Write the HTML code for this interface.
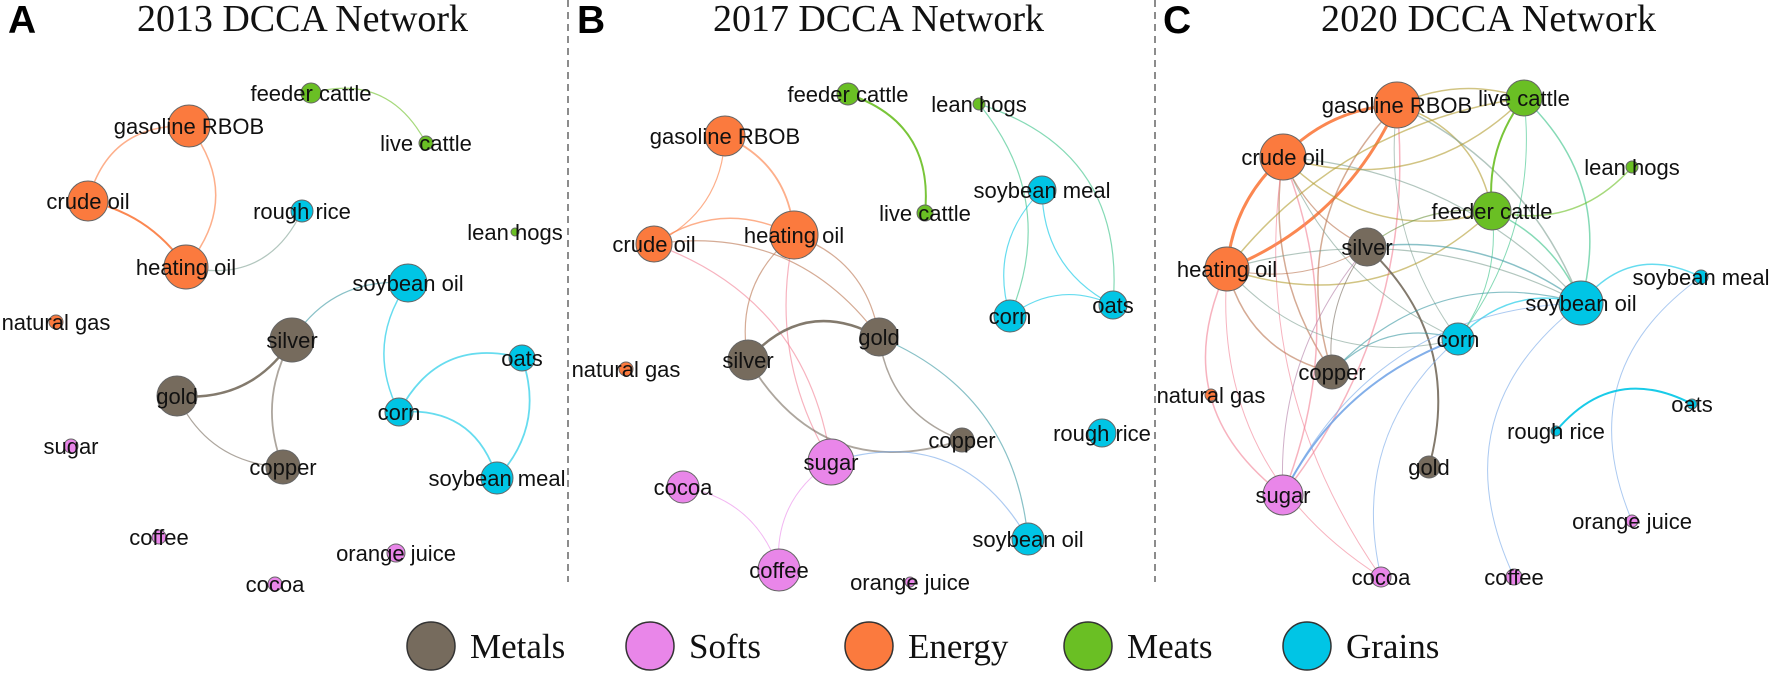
<!DOCTYPE html>
<html><head><meta charset="utf-8"><style>
html,body{margin:0;padding:0;background:#fff;}
svg{display:block;}
.lbl{font-family:"Liberation Sans",Arial,sans-serif;font-size:22px;fill:#111;text-anchor:middle;}
.ttl{font-family:"Liberation Serif","Times New Roman",serif;font-size:38px;fill:#111;}
.let{font-family:"Liberation Sans",Arial,sans-serif;font-size:39px;font-weight:bold;fill:#000;}
.leg{font-family:"Liberation Serif","Times New Roman",serif;font-size:35px;fill:#111;}
</style></head><body>
<svg id="chart" width="1772" height="674" viewBox="0 0 1772 674" xmlns="http://www.w3.org/2000/svg">
<line x1="568" y1="0" x2="568" y2="582" stroke="#666" stroke-width="1.5" stroke-dasharray="7,5"/>
<line x1="1155" y1="0" x2="1155" y2="582" stroke="#666" stroke-width="1.5" stroke-dasharray="7,5"/>
<text class="let" x="8" y="33">A</text>
<text class="let" x="577" y="33">B</text>
<text class="let" x="1163" y="33">C</text>
<text class="ttl" x="137" y="31" textLength="331">2013 DCCA Network</text>
<text class="ttl" x="713" y="31" textLength="331">2017 DCCA Network</text>
<text class="ttl" x="1321" y="31" textLength="335">2020 DCCA Network</text>
<g id="edges"></g><g id="nodes"></g><g id="legend"></g>
</svg>
<script>
// categories
const categories = ['Metals','Softs','Energy','Meats','Grains'];
const catColors = ['#766b5d','#e986e9','#fb7a3e','#6abf24','#00c5e5'];
const names = {gas:'gasoline RBOB',cru:'crude oil',hea:'heating oil',ng:'natural gas',feed:'feeder cattle',live:'live cattle',lean:'lean hogs',
  rice:'rough rice',soyoil:'soybean oil',soymeal:'soybean meal',corn:'corn',oats:'oats',silver:'silver',gold:'gold',copper:'copper',
  sugar:'sugar',coffee:'coffee',cocoa:'cocoa',oj:'orange juice'};
const nodeCat = {gas:2,cru:2,hea:2,ng:2,feed:3,live:3,lean:3,rice:4,soyoil:4,soymeal:4,corn:4,oats:4,silver:0,gold:0,copper:0,sugar:1,coffee:1,cocoa:1,oj:1};
// node layout per panel: [id, x, y, size]
const nodesA = [['gas',189,126,21],['cru',88,201,20],['hea',186,267,22],['feed',311,93,10],['live',426,143,7],['rice',302,211,11],['lean',515,232,4],
 ['soyoil',408,283,19],['ng',56,322,7],['silver',292,340,22],['gold',177,396,20],['oats',522,358,13],['corn',399,412,14],['sugar',71,446,7],
 ['copper',283,467,17],['soymeal',497,478,16],['coffee',159,537,7],['oj',396,553,9],['cocoa',275,584,7]];
const nodesB = [['feed',848,94,11],['lean',979,104,6],['gas',725,136,20],['soymeal',1042,190,14],['live',925,213,8],['hea',794,235,24],['cru',654,244,18],
 ['oats',1113,305,14],['corn',1010,316,16],['gold',879,337,19],['silver',748,360,20],['ng',626,369,7],['rice',1102,433,14],['copper',962,440,12],
 ['sugar',831,462,23],['cocoa',683,487,16],['soyoil',1028,539,16],['coffee',779,570,21],['oj',910,582,5]];
const nodesC = [['live',1524,98,18],['gas',1397,105,23],['cru',1283,157,23],['lean',1632,167,6],['feed',1492,211,19],['silver',1367,247,19],
 ['hea',1227,269,22],['soymeal',1701,277,7],['soyoil',1581,303,22],['corn',1458,339,16],['copper',1332,372,17],['ng',1211,395,6],
 ['oats',1692,404,5],['rice',1556,431,5],['gold',1429,467,11],['sugar',1283,495,20],['oj',1632,521,6],['coffee',1514,577,8],['cocoa',1381,577,10]];
// edges: [source, target, weight, bend]
const edgesA = [['gas','cru',1.5,0.2],['gas','hea',1.5,-0.2],['cru','hea',2,-0.1],['hea','rice',1.2,0.2],['feed','live',1.2,-0.2],
 ['silver','soyoil',1.2,-0.15],['silver','gold',2.5,-0.15],['silver','copper',1.8,0.12],['gold','copper',1.2,0.15],
 ['soyoil','corn',1.5,0.15],['corn','oats',1.8,-0.2],['corn','soymeal',1.8,-0.2],['oats','soymeal',1.8,-0.15]];
const edgesB = [['gas','cru',1.2,-0.15],['gas','hea',1.8,-0.15],['cru','hea',1.5,-0.15],['feed','live',2,-0.2],['lean','oats',1.2,-0.2],
 ['lean','corn',1.2,-0.15],['soymeal','corn',1.2,0.15],['soymeal','oats',1.2,0.15],['corn','oats',1.2,-0.15],['cru','gold',1.2,-0.15],
 ['cru','sugar',1.2,-0.15],['hea','silver',1.2,0.15],['hea','sugar',1.2,0.1],['hea','gold',1.2,-0.15],['silver','gold',2.5,-0.2],
 ['silver','copper',1.8,0.2],['gold','copper',1.5,0.15],['gold','soyoil',1.2,-0.15],['sugar','soyoil',1.2,-0.2],['sugar','coffee',1,0.15],['cocoa','coffee',1,-0.15]];
const edgesC = [['gas','cru',3,0.1],['gas','hea',3,-0.1],['cru','hea',3,0.1],
 ['gas','live',1.5,-0.1],['gas','feed',1.5,-0.15],['gas','soyoil',1.5,-0.1],['gas','copper',1.5,0.15],['gas','sugar',1.5,-0.1],['gas','corn',1,0.1],
 ['cru','live',1.5,0.15],['cru','feed',1.5,0.15],['cru','soyoil',1.2,-0.1],['cru','copper',1.5,0.1],['cru','sugar',1.5,-0.1],['cru','corn',1,0.1],['cru','silver',1.2,0.1],['cru','cocoa',1,0.1],
 ['hea','live',1.5,-0.1],['hea','feed',1.5,0.15],['hea','soyoil',1.2,-0.1],['hea','copper',1.5,0.15],['hea','sugar',1.5,0.2],['hea','corn',1,0.15],['hea','silver',1,0.1],['hea','cocoa',1,0.15],
 ['live','feed',2,0.1],['live','soyoil',1.5,-0.15],['live','corn',1,-0.1],['feed','lean',1.5,0.15],['feed','soyoil',1.5,-0.1],['feed','corn',1,-0.1],['feed','silver',1.2,0.1],
 ['silver','gold',2,-0.15],['silver','soyoil',1.5,-0.1],['silver','copper',1,0.1],['silver','sugar',1,0.1],
 ['copper','corn',1.2,-0.15],['copper','soyoil',1.2,-0.15],['corn','soyoil',1.5,-0.15],['corn','sugar',2,0.1],['corn','cocoa',1,0.15],
 ['soyoil','sugar',1,0.15],['soyoil','coffee',1,0.2],['soyoil','soymeal',1.5,-0.2],['soymeal','oj',1,0.2],['rice','oats',2,-0.2]];

const NS='http://www.w3.org/2000/svg';
function hex(c){return [1,3,5].map(i=>parseInt(c.substr(i,2),16));}
function mix(a,b){const x=hex(a),y=hex(b);return 'rgb('+x.map((v,i)=>Math.round((v+y[i])/2)).join(',')+')';}
function drawPanel(key,nodes,edges){
  const eg=document.getElementById('edges'), ng=document.getElementById('nodes');
  const pos={}; nodes.forEach(n=>pos[n[0]]=n);
  edges.forEach(e=>{
    const s=pos[e[0]],t=pos[e[1]]; if(!s||!t) return;
    const dx=t[1]-s[1],dy=t[2]-s[2];
    const cx=(s[1]+t[1])/2 - dy*e[3]*2, cy=(s[2]+t[2])/2 + dx*e[3]*2;
    const p=document.createElementNS(NS,'path');
    p.setAttribute('d','M'+s[1]+','+s[2]+' Q'+cx+','+cy+' '+t[1]+','+t[2]);
    const c1=catColors[nodeCat[e[0]]],c2=catColors[nodeCat[e[1]]];
    p.setAttribute('stroke',c1===c2?c1:mix(c1,c2));
    p.setAttribute('stroke-width',e[2]);
    p.setAttribute('stroke-opacity',e[2]>=2?0.9:0.6);
    p.setAttribute('fill','none');
    
    
    eg.appendChild(p);
  });
  nodes.forEach(n=>{
    const g=document.createElementNS(NS,'g');
    
    
    const c=document.createElementNS(NS,'circle');
    c.setAttribute('cx',n[1]);c.setAttribute('cy',n[2]);c.setAttribute('r',n[3]);
    c.setAttribute('fill',catColors[nodeCat[n[0]]]);c.setAttribute('stroke','#666');c.setAttribute('stroke-width','1');
    g.appendChild(c);
    const t=document.createElementNS(NS,'text');
    t.setAttribute('class','lbl');t.setAttribute('x',n[1]);t.setAttribute('y',n[2]+8);
    t.textContent=names[n[0]];
    g.appendChild(t);
    ng.appendChild(g);
  });
}
drawPanel('2013',nodesA,edgesA);
drawPanel('2017',nodesB,edgesB);
drawPanel('2020',nodesC,edgesC);
const lg=document.getElementById('legend');
categories.forEach((name,i)=>{
  const x=431+i*219;
  const g=document.createElementNS(NS,'g');
  
  
  const e=document.createElementNS(NS,'ellipse');
  e.setAttribute('cx',x);e.setAttribute('cy',646);e.setAttribute('rx',24);e.setAttribute('ry',24);
  e.setAttribute('fill',catColors[i]);e.setAttribute('stroke','#333');e.setAttribute('stroke-width','1.5');
  g.appendChild(e);
  const t=document.createElementNS(NS,'text');
  t.setAttribute('class','leg');t.setAttribute('x',x+39);t.setAttribute('y',658);
  t.textContent=name;
  g.appendChild(t);
  lg.appendChild(g);
});
</script>
</body></html>
